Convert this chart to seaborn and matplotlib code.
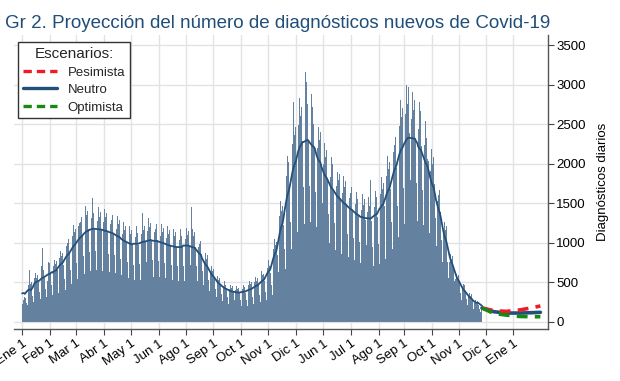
import numpy as np
import pandas as pd
import matplotlib
matplotlib.use("Agg")
import matplotlib.pyplot as plt
import seaborn as sns
from matplotlib.lines import Line2D

# Daily new diagnoses (day 0 = "Ene 1"), one week per row
daily_cases = [
    230, 290, 270, 320, 300, 240, 210,
    460, 650, 480, 500, 420, 330, 250,
    550, 620, 560, 590, 500, 380, 290,
    600, 700, 930, 650, 560, 420, 320,
    520, 760, 700, 740, 610, 460, 340,
    700, 780, 730, 770, 650, 480, 360,
    810, 900, 830, 870, 720, 540, 400,
    960, 1090, 1000, 1050, 870, 650, 480,
    1080, 1220, 1130, 1180, 980, 740, 540,
    1210, 1250, 1260, 1320, 1100, 830, 600,
    1290, 1470, 1350, 1400, 1170, 880, 640,
    1310, 1560, 1370, 1430, 1190, 890, 650,
    1280, 1450, 1330, 1390, 1160, 870, 640,
    1260, 1430, 1320, 1370, 1150, 860, 630,
    1240, 1530, 1290, 1350, 1120, 840, 620,
    1180, 1340, 1240, 1290, 1080, 800, 590,
    1110, 1260, 1160, 1210, 1010, 760, 560,
    1060, 1210, 1110, 1160, 970, 720, 530,
    1070, 1210, 1120, 1160, 970, 730, 530,
    1110, 1380, 1160, 1210, 1010, 760, 560,
    1150, 1310, 1200, 1250, 1040, 780, 570,
    1130, 1290, 1180, 1240, 1030, 770, 570,
    1090, 1240, 1140, 1190, 1000, 750, 550,
    1060, 1210, 1110, 1160, 960, 720, 530,
    1030, 1180, 1080, 1130, 940, 700, 520,
    1030, 1170, 1080, 1120, 930, 700, 510,
    1050, 1190, 1100, 1150, 960, 720, 530,
    1450, 1180, 1090, 1130, 940, 710, 520,
    940, 1060, 980, 1020, 850, 640, 470,
    770, 870, 800, 840, 700, 530, 390,
    620, 700, 640, 670, 560, 420, 310,
    510, 580, 530, 560, 470, 350, 260,
    450, 510, 470, 490, 410, 310, 230,
    420, 470, 430, 450, 380, 280, 210,
    400, 450, 410, 430, 360, 270, 200,
    410, 460, 430, 440, 370, 280, 200,
    460, 520, 480, 500, 410, 310, 230,
    500, 570, 520, 550, 460, 340, 250,
    560, 640, 590, 610, 510, 380, 280,
    680, 780, 710, 740, 620, 470, 340,
    920, 1050, 970, 1010, 840, 630, 460,
    1340, 1530, 1400, 1460, 1220, 920, 670,
    1850, 2100, 1930, 2020, 1680, 1260, 920,
    2250, 2780, 2360, 2460, 2050, 1540, 1130,
    2490, 2830, 2600, 2710, 2260, 1700, 1240,
    2520, 3160, 3030, 2750, 2290, 1720, 1260,
    2880, 2720, 2500, 2620, 2180, 1640, 1200,
    2200, 2460, 2300, 2400, 2000, 1500, 1100,
    1990, 2260, 2080, 2170, 1810, 1360, 1000,
    1830, 2080, 1910, 1990, 1660, 1250, 910,
    1720, 1890, 1790, 1870, 1560, 1170, 860,
    1630, 1850, 1710, 1780, 1490, 1110, 820,
    1560, 1830, 1630, 1700, 1420, 1060, 780,
    1490, 1640, 1550, 1620, 1350, 1010, 740,
    1420, 1610, 1480, 1550, 1290, 970, 710,
    1390, 1580, 1460, 1790, 1270, 950, 700,
    1450, 1650, 1520, 1580, 1320, 990, 730,
    1610, 1830, 1680, 1750, 1460, 1100, 800,
    1850, 2100, 1930, 2020, 1680, 1260, 920,
    2150, 2290, 2240, 2340, 1950, 1460, 1070,
    2480, 2810, 2590, 2700, 2250, 1690, 1240,
    2630, 2990, 2750, 2970, 2390, 1790, 1310,
    2560, 2910, 2680, 2800, 2330, 1750, 1280,
    2440, 2780, 2550, 2660, 2220, 1670, 1220,
    2230, 2540, 2330, 2060, 2030, 1520, 1120,
    1910, 2180, 2000, 2090, 1740, 1310, 960,
    1530, 1740, 1600, 1670, 1390, 1040, 760,
    1110, 1260, 1160, 1210, 1010, 760, 560,
    760, 860, 790, 830, 690, 520, 380,
    540, 610, 560, 590, 490, 370, 270,
    420, 480, 440, 460, 380, 290, 210,
    320, 360, 330, 350, 290, 220, 160,
    240, 270, 250, 260, 210, 160, 120,
    190, 150,
]

month_labels = ["Ene 1", "Feb 1", "Mar 1", "Abr 1", "May 1", "Jun 1", "Ago 1",
                "Sep 1", "Oct 1", "Nov 1", "Dic 1", "Jun 1", "Jul 1", "Ago 1",
                "Sep 1", "Oct 1", "Nov 1", "Dic 1", "Ene 1"]

# Scenario projections after the last observed day
proj_days = [512, 525, 539, 554, 566, 577]
pesimista = [175, 141, 132, 150, 175, 200]
neutro = [175, 128, 111, 111, 115, 120]
optimista = [175, 107, 85, 68, 65, 64]

df = pd.DataFrame({"day": np.arange(len(daily_cases)), "cases": daily_cases})
df["smooth"] = df["cases"].rolling(21, center=True, min_periods=1).mean()

proj = pd.DataFrame({"day": proj_days, "Pesimista": pesimista,
                     "Neutro": neutro, "Optimista": optimista})

tick_days = (pd.date_range("2020-01-01", periods=len(month_labels), freq="MS")
             - pd.Timestamp("2020-01-01")).days

sns.set_theme(style="whitegrid")
plt.rcParams["font.family"] = ["Liberation Sans", "DejaVu Sans"]

bar_color = "#64819f"
navy = "#22507c"

fig = plt.figure(figsize=(6.2, 3.81), dpi=100)
ax = fig.add_axes([0.0226, 0.136, 0.8613, 0.772])

ax.bar(df["day"], df["cases"], width=1.0, color=bar_color, linewidth=0)
sns.lineplot(data=df, x="day", y="smooth", ax=ax, color=navy, linewidth=1.3)
sns.lineplot(data=proj, x="day", y="Neutro", ax=ax, color=navy, linewidth=2.6)
sns.lineplot(data=proj, x="day", y="Pesimista", ax=ax, color="#ee1c25",
             linewidth=2.6, linestyle=(0, (3, 2)))
sns.lineplot(data=proj, x="day", y="Optimista", ax=ax, color="#138a13",
             linewidth=2.6, linestyle=(0, (3, 2)))

ax.set_xlim(-9, 585.5)
ax.set_ylim(-93, 3626)
ax.set_yticks(np.arange(0, 3501, 500))
ax.set_xticks(tick_days)
ax.set_xticklabels(month_labels, rotation=35, ha="right", rotation_mode="anchor",
                   fontsize=9.5, color="black")
ax.yaxis.tick_right()
ax.yaxis.set_label_position("right")
ax.set_ylabel("Diagnósticos diarios", fontsize=9.5, labelpad=8, color="black")
ax.set_xlabel("")
ax.tick_params(axis="y", labelsize=9.5, labelcolor="black", length=4, width=0.8,
               color="#444444", pad=2, right=True, left=False)
ax.tick_params(axis="x", length=4, width=0.8, color="#444444", pad=2, bottom=True)

ax.set_facecolor("white")
ax.grid(True, color="#e3e3e3", linewidth=1.0)
for side in ["top", "left"]:
    ax.spines[side].set_visible(False)
for side in ["bottom", "right"]:
    ax.spines[side].set_color("#555555")
    ax.spines[side].set_linewidth(1.0)

fig.text(0.008, 0.927, "Gr 2. Proyección del número de diagnósticos nuevos de Covid-19",
         fontsize=13.5, color="#1f4e79", ha="left", va="baseline")

handles = [
    Line2D([], [], color="#ee1c25", linewidth=2.4, linestyle=(0, (2.5, 1.5))),
    Line2D([], [], color=navy, linewidth=2.4),
    Line2D([], [], color="#138a13", linewidth=2.4, linestyle=(0, (2.5, 1.5))),
]
leg = ax.legend(handles, ["Pesimista", "Neutro", "Optimista"], title="Escenarios:",
                loc="upper left", bbox_to_anchor=(0.008, 0.975), borderaxespad=0,
                fontsize=9.5, title_fontsize=11, frameon=True, fancybox=False,
                handlelength=2.6, handletextpad=0.8, labelspacing=0.4,
                borderpad=0.35)
leg.get_frame().set_edgecolor("#333333")
leg.get_frame().set_linewidth(1.0)
leg.get_frame().set_alpha(1)

fig.savefig("out.png", dpi=100)
